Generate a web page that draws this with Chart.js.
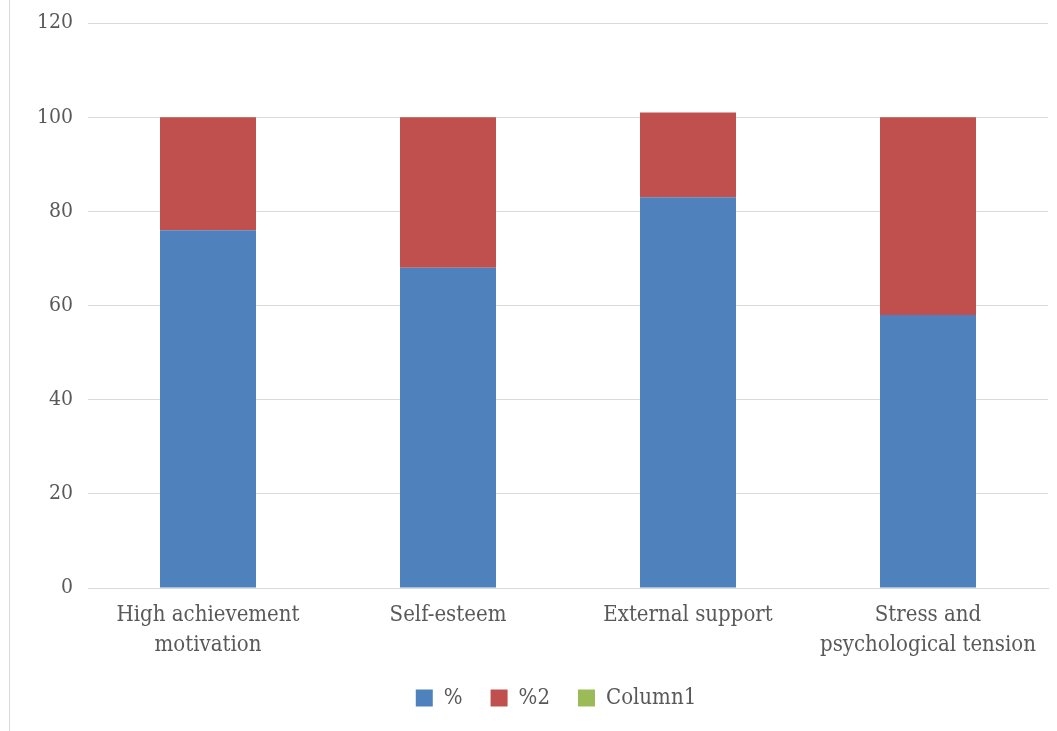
<!DOCTYPE html>
<html>
<head>
<meta charset="utf-8">
<script src="https://cdn.jsdelivr.net/npm/chart.js@4/dist/chart.umd.min.js"></script>
<style>
    html, body { margin: 0; padding: 0; background: #fff; }
    #wrap { position: relative; width: 1057px; height: 731px; }
    #frame { position: absolute; left: 9px; top: 0; bottom: 0; border-left: 1px solid #d9d9d9; }
</style>
</head>
<body>
<div id="wrap">
    <div id="frame"></div>
    <canvas id="chart" width="1057" height="731"></canvas>
</div>
<script>
// Stacked column chart
const categories = [
    ["High achievement", "motivation"],
    "Self-esteem",
    "External support",
    ["Stress and", "psychological tension"],
];
const pctValues = [76, 68, 83, 58];
const pct2Values = [24, 32, 18, 42];
const column1Values = [null, null, null, null];
const yTicks = [0, 20, 40, 60, 80, 100, 120];

const colors = {
    blue: "#4f81bd",
    red: "#c0504d",
    green: "#9bbb59",
    grid: "#d9d9d9",
    text: "#595959",
};

const fontFamily = "'DejaVu Serif Condensed', 'Liberation Serif', serif";

// legend sits a bit right of center in the original
const legendShift = {
    id: "legendShift",
    afterLayout(chart) {
        chart.legend.left += 32;
        chart.legend.right += 32;
    },
};

new Chart(document.getElementById("chart"), {
    type: "bar",
    data: {
        labels: categories,
        datasets: [
            { label: "%", data: pctValues, backgroundColor: colors.blue },
            { label: "%2", data: pct2Values, backgroundColor: colors.red },
            { label: "Column1", data: column1Values, backgroundColor: colors.green },
        ],
    },
    options: {
        responsive: false,
        animation: false,
        layout: { padding: { top: 23, right: 9, bottom: 12, left: 0 } },
        datasets: {
            bar: { categoryPercentage: 1, barPercentage: 0.4, borderWidth: 0 },
        },
        plugins: {
            tooltip: { enabled: false },
            legend: {
                position: "bottom",
                labels: {
                    color: colors.text,
                    font: { family: fontFamily, size: 22 },
                    boxWidth: 17,
                    boxHeight: 17,
                    padding: 28,
                },
            },
        },
        scales: {
            x: {
                stacked: true,
                grid: { display: false, drawTicks: false },
                border: { color: colors.grid },
                ticks: {
                    color: colors.text,
                    font: { family: fontFamily, size: 22, lineHeight: 1.36 },
                    padding: 12,
                    maxRotation: 0,
                },
                afterFit: s => { s.height = 71; },
            },
            y: {
                stacked: true,
                min: 0,
                max: 120,
                afterBuildTicks: s => { s.ticks = yTicks.map(v => ({ value: v })); },
                grid: { color: colors.grid, drawTicks: false },
                border: { display: false },
                ticks: {
                    color: colors.text,
                    font: { family: fontFamily, size: 21 },
                    padding: 15,
                },
                afterFit: s => {
                    s.width = 88;
                    s.paddingTop = 0;
                    s.paddingBottom = 0;
                },
            },
        },
    },
    plugins: [legendShift],
});
</script>
</body>
</html>
